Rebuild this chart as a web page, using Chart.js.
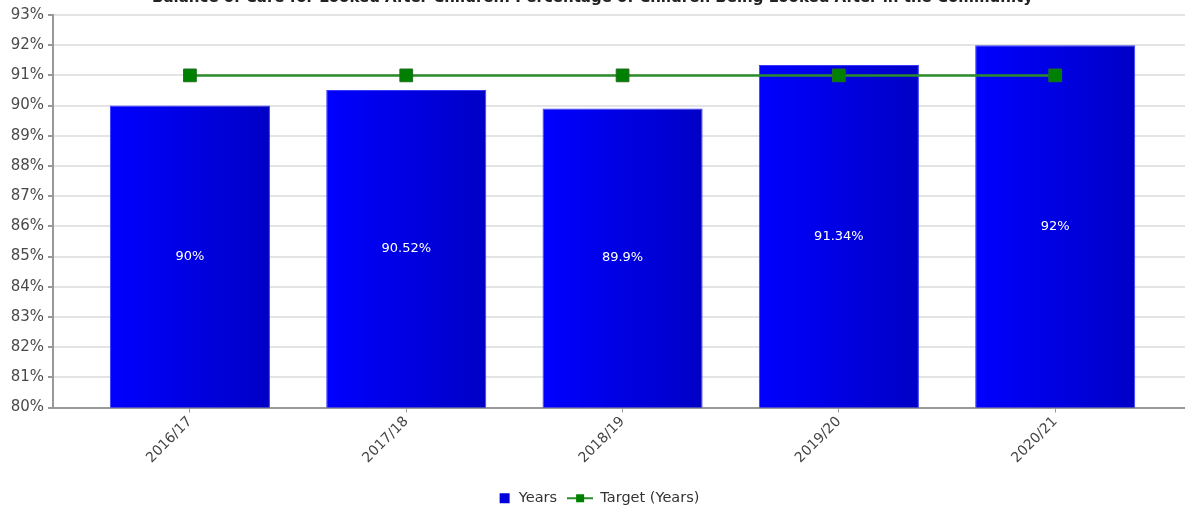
<!DOCTYPE html>
<html>
<head>
<meta charset="utf-8">
<script src="https://cdn.jsdelivr.net/npm/chart.js@4.4.1/dist/chart.umd.min.js"></script>
<style>
  html, body { margin: 0; padding: 0; background: #fff; overflow: hidden; }
  #wrap { position: absolute; left: 0; top: -11px; width: 1185px; height: 533px; }
</style>
</head>
<body>
<div id="wrap"><canvas id="balanceChart"></canvas></div>
<script>
var years = ['2016/17', '2017/18', '2018/19', '2019/20', '2020/21'];
var yearValues = [90, 90.52, 89.9, 91.34, 92];
var targetValues = [91, 91, 91, 91, 91];
var yTicks = [80, 81, 82, 83, 84, 85, 86, 87, 88, 89, 90, 91, 92, 93];
var chartTitle = 'Balance of Care for Looked After Children: Percentage of Children Being Looked After in the Community';

var font = "'DejaVu Sans', Verdana, sans-serif";

// legend markers
function legendSquare() {
    var c = document.createElement('canvas');
    c.width = 26; c.height = 12;
    var g = c.getContext('2d');
    g.fillStyle = '#0000dd';
    g.fillRect(14, 1, 10, 10);
    return c;
}
function legendLine() {
    var c = document.createElement('canvas');
    c.width = 26; c.height = 12;
    var g = c.getContext('2d');
    g.strokeStyle = '#2a8c2a';
    g.lineWidth = 2;
    g.beginPath(); g.moveTo(0, 6); g.lineTo(26, 6); g.stroke();
    g.fillStyle = '#008000';
    g.fillRect(9, 2, 8, 8);
    return c;
}

// value labels in the middle of each bar
var barLabels = {
    id: 'barLabels',
    afterDraw: function (chart) {
        var xs = chart.scales.x, ys = chart.scales.y;
        var ctx = chart.ctx;
        ctx.save();
        ctx.fillStyle = '#ffffff';
        ctx.font = '13px ' + font;
        ctx.textAlign = 'center';
        ctx.textBaseline = 'middle';
        yearValues.forEach(function (v, i) {
            var top = ys.getPixelForValue(v);
            var base = ys.getPixelForValue(ys.min);
            ctx.fillText(v + '%', xs.getPixelForValue(i), (top + base) / 2);
        });
        ctx.restore();
    }
};

var barFill = function (c) {
    var chart = c.chart;
    if (!chart.chartArea || !chart.scales.x) return '#0000ee';
    var cx = chart.scales.x.getPixelForValue(c.dataIndex);
    var g = chart.ctx.createLinearGradient(cx - 80, 0, cx + 80, 0);
    g.addColorStop(0, '#0000ff');
    g.addColorStop(1, '#0000c6');
    return g;
};

var myChart = new Chart(document.getElementById('balanceChart').getContext('2d'), {
    type: 'bar',
    data: {
        datasets: [{
            type: 'line',
            label: 'Target (Years)',
            data: targetValues.map(function (v, i) { return { x: i, y: v }; }),
            borderColor: '#2a8c2a',
            borderWidth: 2.5,
            backgroundColor: '#008000',
            pointStyle: 'rect',
            pointRadius: 9,
            pointHoverRadius: 9,
            pointBorderWidth: 1,
            pointBorderColor: '#1d6e1d',
            pointBackgroundColor: '#008000',
            order: 0
        }, {
            type: 'bar',
            label: 'Years',
            data: yearValues.map(function (v, i) { return { x: i, y: v }; }),
            backgroundColor: barFill,
            borderColor: '#3a3aff',
            borderWidth: 1,
            barPercentage: 0.74,
            categoryPercentage: 1,
            order: 1
        }]
    },
    options: {
        responsive: true,
        maintainAspectRatio: false,
        animation: false,
        layout: { autoPadding: false, padding: { left: 0, right: 0, top: 0, bottom: 6.5 } },
        scales: {
            x: {
                type: 'linear',
                offset: false,
                min: -0.633,
                max: 4.6,
                afterBuildTicks: function (scale) {
                    scale.ticks = years.map(function (y, i) { return { value: i }; });
                },
                afterFit: function (scale) {
                    scale.height = 73.5;
                    scale.paddingLeft = 0;
                    scale.paddingRight = 0;
                },
                ticks: {
                    callback: function (v) { return years[v]; },
                    maxRotation: 45,
                    minRotation: 45,
                    color: '#444',
                    font: { family: font, size: 14 },
                    padding: 1
                },
                grid: { offset: false, drawOnChartArea: false, tickLength: 5, tickColor: '#999' },
                border: { color: '#999', width: 2 }
            },
            y: {
                min: 80,
                max: 93,
                afterBuildTicks: function (scale) {
                    scale.ticks = yTicks.map(function (v) { return { value: v }; });
                },
                afterFit: function (scale) { scale.width = 53; },
                ticks: {
                    callback: function (v) { return v + '%'; },
                    color: '#4a4a4a',
                    font: { family: font, size: 15 },
                    padding: 4
                },
                grid: { color: '#e4e4e4', lineWidth: 2, tickLength: 5, tickColor: '#999' },
                border: { color: '#999', width: 2 }
            }
        },
        plugins: {
            title: {
                display: true,
                text: chartTitle,
                color: '#222',
                font: { family: font, size: 15, weight: 'bold' },
                padding: { top: 0, bottom: 8 }
            },
            legend: {
                position: 'bottom',
                labels: {
                    usePointStyle: true,
                    pointStyleWidth: 26,
                    color: '#333',
                    font: { family: font, size: 14.5 },
                    padding: 10,
                    generateLabels: function (chart) {
                        return [
                            { text: 'Years', pointStyle: legendSquare(), datasetIndex: 1, fontColor: '#333', lineWidth: 0 },
                            { text: 'Target (Years)', pointStyle: legendLine(), datasetIndex: 0, fontColor: '#333', lineWidth: 0 }
                        ];
                    }
                }
            },
            tooltip: { enabled: false }
        }
    },
    plugins: [barLabels]
});
</script>
</body>
</html>
